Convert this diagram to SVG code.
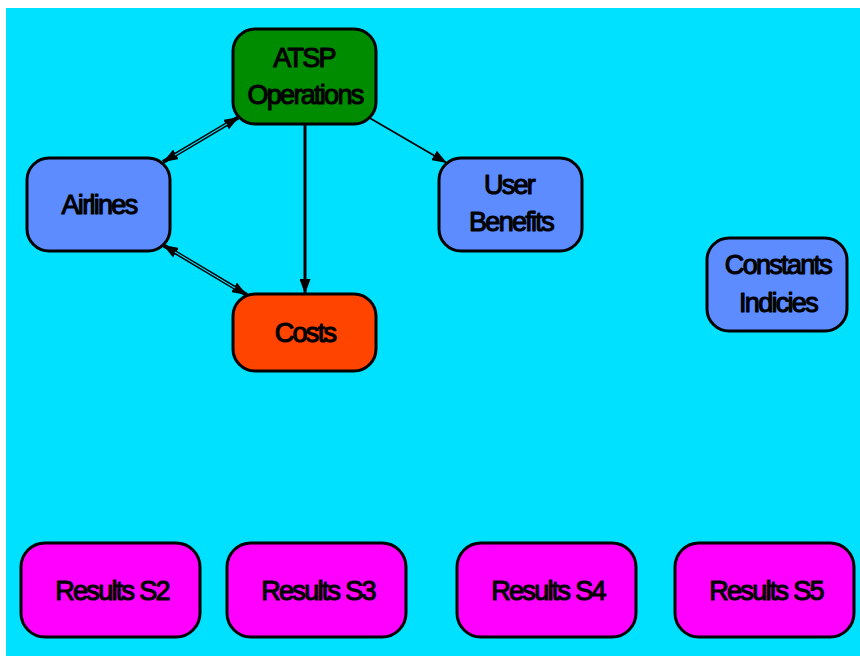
<svg xmlns="http://www.w3.org/2000/svg" width="860" height="656" viewBox="0 0 860 656">
  <style>
    .box { stroke: #000; stroke-width: 3; }
    .blue { fill: #5c8cff; }
    .green { fill: #008c00; }
    .orange { fill: #ff4400; }
    .magenta { fill: #ff00ff; }
    .label { font-family: "Liberation Sans", Arial, sans-serif; font-size: 27px; letter-spacing: -1.7px; fill: #000; stroke: #000; stroke-width: 1.1; stroke-linejoin: round; text-anchor: middle; }
    .edge { stroke: #000; fill: none; }
  </style>
  <defs>
    <marker id="arrow" viewBox="0 0 15 11" refX="15" refY="5.5" markerWidth="15" markerHeight="11" markerUnits="userSpaceOnUse" orient="auto-start-reverse">
      <path d="M0,0 L15,5.5 L0,11 Z" fill="#000"/>
    </marker>
  </defs>

  <!-- canvas -->
  <rect x="6" y="8" width="854" height="648" fill="#00e1ff"/>

  <!-- connectors -->
  <g id="connectors">
    <!-- Airlines <-> ATSP Operations (double line) -->
    <line class="edge" x1="163" y1="162" x2="239" y2="117" stroke-width="4" marker-start="url(#arrow)" marker-end="url(#arrow)"/>
    <line x1="175" y1="155" x2="227" y2="124" stroke="#00e1ff" stroke-width="1.1"/>
    <!-- Airlines <-> Costs (double line) -->
    <line class="edge" x1="163" y1="245" x2="247" y2="295" stroke-width="4" marker-start="url(#arrow)" marker-end="url(#arrow)"/>
    <line x1="175" y1="252" x2="235" y2="288" stroke="#00e1ff" stroke-width="1.1"/>
    <!-- ATSP Operations -> Costs -->
    <line class="edge" x1="305" y1="124" x2="305" y2="294" stroke-width="3" marker-end="url(#arrow)"/>
    <!-- ATSP Operations -> User Benefits -->
    <line class="edge" x1="368" y1="117" x2="447" y2="163" stroke-width="1.6" marker-end="url(#arrow)"/>
  </g>

  <g id="atsp">
    <rect class="box green" x="233" y="29" width="143" height="95" rx="22"/>
    <text class="label" x="304" y="67">ATSP</text>
    <text class="label" x="305" y="104">Operations</text>
  </g>

  <g id="airlines">
    <rect class="box blue" x="27" y="158" width="143" height="93" rx="22"/>
    <text class="label" x="99" y="214">Airlines</text>
  </g>

  <g id="user-benefits">
    <rect class="box blue" x="439" y="158" width="143" height="93" rx="22"/>
    <text class="label" x="509" y="194">User</text>
    <text class="label" x="511" y="231">Benefits</text>
  </g>

  <g id="costs">
    <rect class="box orange" x="233" y="294" width="143" height="77" rx="22"/>
    <text class="label" x="305" y="342">Costs</text>
  </g>

  <g id="constants">
    <rect class="box blue" x="707" y="238" width="140" height="93" rx="22"/>
    <text class="label" x="778" y="274">Constants</text>
    <text class="label" x="778" y="312">Indicies</text>
  </g>

  <g id="results-s2">
    <rect class="box magenta" x="21" y="543" width="179" height="94" rx="24"/>
    <text class="label" x="112" y="600">Results S2</text>
  </g>

  <g id="results-s3">
    <rect class="box magenta" x="227" y="543" width="179" height="94" rx="24"/>
    <text class="label" x="318" y="600">Results S3</text>
  </g>

  <g id="results-s4">
    <rect class="box magenta" x="457" y="543" width="179" height="94" rx="24"/>
    <text class="label" x="548" y="600">Results S4</text>
  </g>

  <g id="results-s5">
    <rect class="box magenta" x="675" y="543" width="179" height="94" rx="24"/>
    <text class="label" x="766" y="600">Results S5</text>
  </g>
</svg>
